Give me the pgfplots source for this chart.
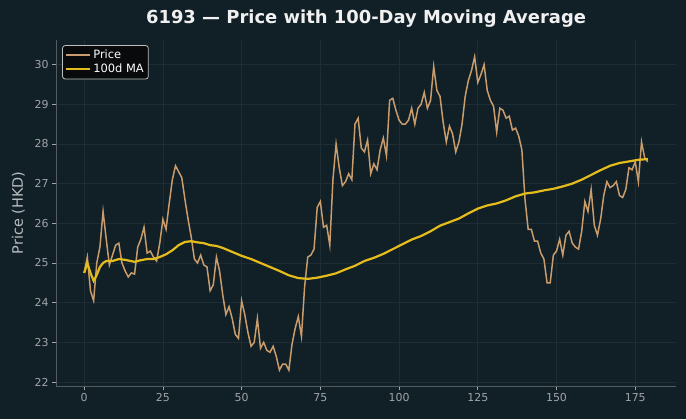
\documentclass[border=0pt]{standalone}
\usepackage{pgfplots}
\pgfplotsset{compat=1.18}
\usepackage{fontspec}
\setmainfont{DejaVu Sans}
\definecolor{bg}{RGB}{17,31,39}
\definecolor{pricec}{RGB}{201,156,108}
\definecolor{mac}{RGB}{228,188,28}
\definecolor{tickc}{RGB}{160,165,168}
\definecolor{gridc}{RGB}{30,44,52}
\definecolor{spinec}{RGB}{85,92,96}
\definecolor{legbg}{RGB}{8,10,12}
\definecolor{legdraw}{RGB}{190,190,190}
\definecolor{titlec}{RGB}{240,240,240}
\definecolor{labelc}{RGB}{185,190,192}
\begin{document}
\begin{tikzpicture}[x=1bp,y=1bp]
\fill[bg] (0,0) rectangle (686,419);
\path[use as bounding box] (0,0) rectangle (686,419);
\node[text=titlec, font=\fontsize{18}{21}\selectfont\bfseries] at (366,400) {6193 — Price with 100-Day Moving Average};
\begin{axis}[
  at={(56bp,33bp)}, anchor=south west, scale only axis,
  width=620bp, height=346bp,
  xmin=-8.95, xmax=187.95, ymin=21.9, ymax=30.62,
  axis x line*=bottom, axis y line*=left,
  axis line style={spinec, line width=0.8bp},
  tick align=outside,
  major tick length=4bp,
  tick style={tickc, line width=0.8bp},
  xtick={0,25,...,175}, ytick={22,...,30},
  grid=major, major grid style={gridc, line width=0.6bp},
  tick label style={text=tickc, font=\fontsize{11}{12}\selectfont},
  /pgf/number format/assume math mode=true,
  ylabel={Price (HKD)},
  ylabel shift=3bp,
  ylabel style={text=labelc, font=\fontsize{14.5}{16}\selectfont},
  legend style={at={(0.01,0.985)}, anchor=north west, fill=legbg, draw=legdraw,
    rounded corners=2.5bp, text=white, font=\fontsize{11.5}{14}\selectfont,
    inner sep=2.5bp, row sep=0bp, line width=0.8bp},
  legend cell align=left,
  legend image code/.code={\draw[#1] (0bp,0bp) -- (24bp,0bp);},
]
\addplot[pricec, line width=1.5bp] table[row sep=\\] {
x y\\
0 24.75\\ 1 25.15\\ 2 24.3\\ 3 24.05\\ 4 25.0\\ 5 25.4\\ 6 26.3\\ 7 25.6\\ 8 24.95\\ 9 25.2\\
10 25.45\\ 11 25.5\\ 12 25.0\\ 13 24.8\\ 14 24.65\\ 15 24.75\\ 16 24.72\\ 17 25.4\\ 18 25.6\\ 19 25.9\\
20 25.25\\ 21 25.3\\ 22 25.15\\ 23 25.05\\ 24 25.5\\ 25 26.1\\ 26 25.85\\ 27 26.5\\ 28 27.1\\ 29 27.45\\
30 27.3\\ 31 27.15\\ 32 26.6\\ 33 26.1\\ 34 25.65\\ 35 25.1\\ 36 25.0\\ 37 25.2\\ 38 24.95\\ 39 24.9\\
40 24.3\\ 41 24.45\\ 42 25.15\\ 43 24.8\\ 44 24.2\\ 45 23.7\\ 46 23.9\\ 47 23.6\\ 48 23.2\\ 49 23.1\\
50 24.05\\ 51 23.7\\ 52 23.25\\ 53 22.9\\ 54 23.0\\ 55 23.6\\ 56 22.85\\ 57 23.0\\ 58 22.8\\ 59 22.75\\
60 22.9\\ 61 22.65\\ 62 22.3\\ 63 22.45\\ 64 22.45\\ 65 22.3\\ 66 22.95\\ 67 23.35\\ 68 23.65\\ 69 23.15\\
70 24.4\\ 71 25.15\\ 72 25.2\\ 73 25.35\\ 74 26.4\\ 75 26.55\\ 76 25.9\\ 77 25.95\\ 78 25.45\\ 79 27.1\\
80 28.0\\ 81 27.4\\ 82 26.95\\ 83 27.05\\ 84 27.25\\ 85 27.1\\ 86 28.5\\ 87 28.65\\ 88 27.9\\ 89 27.8\\
90 28.1\\ 91 27.25\\ 92 27.5\\ 93 27.35\\ 94 27.85\\ 95 28.15\\ 96 27.7\\ 97 29.1\\ 98 29.15\\ 99 28.85\\
100 28.6\\ 101 28.5\\ 102 28.5\\ 103 28.6\\ 104 28.9\\ 105 28.5\\ 106 28.9\\ 107 29.0\\ 108 29.3\\ 109 28.9\\
110 29.1\\ 111 29.95\\ 112 29.35\\ 113 29.2\\ 114 28.55\\ 115 28.05\\ 116 28.45\\ 117 28.25\\ 118 27.8\\ 119 28.05\\
120 28.5\\ 121 29.2\\ 122 29.6\\ 123 29.85\\ 124 30.2\\ 125 29.55\\ 126 29.75\\ 127 30.0\\ 128 29.35\\ 129 29.1\\
130 28.95\\ 131 28.3\\ 132 28.9\\ 133 28.85\\ 134 28.65\\ 135 28.7\\ 136 28.35\\ 137 28.4\\ 138 28.2\\ 139 27.85\\
140 26.6\\ 141 25.85\\ 142 25.85\\ 143 25.55\\ 144 25.55\\ 145 25.25\\ 146 25.1\\ 147 24.5\\ 148 24.5\\ 149 25.2\\
150 25.3\\ 151 25.6\\ 152 25.2\\ 153 25.7\\ 154 25.8\\ 155 25.5\\ 156 25.4\\ 157 25.35\\ 158 25.8\\ 159 26.55\\
160 26.3\\ 161 26.85\\ 162 25.95\\ 163 25.7\\ 164 26.1\\ 165 26.7\\ 166 27.05\\ 167 26.9\\ 168 26.95\\ 169 27.05\\
170 26.7\\ 171 26.65\\ 172 26.85\\ 173 27.4\\ 174 27.35\\ 175 27.55\\ 176 27.05\\ 177 28.05\\ 178 27.65\\ 179 27.55\\
};
\addlegendentry{Price}
\addplot[mac, line width=2.2bp] coordinates {
(0,24.75) (1,25.0) (2,24.75) (3,24.55) (4,24.7) (5,24.9) (6,25.0) (7,25.05) (9,25.05) (11,25.1)
(13,25.08) (16,25.03) (18,25.07) (20,25.1) (22,25.1) (24,25.15) (26,25.22) (28,25.32) (30,25.45)
(32,25.53) (34,25.55) (36,25.52) (38,25.5) (40,25.45) (42,25.43) (44,25.38) (47,25.28) (50,25.18)
(53,25.1) (56,25.0) (59,24.9) (62,24.8) (65,24.69) (68,24.62) (71,24.6) (74,24.63) (77,24.68)
(80,24.74) (83,24.84) (86,24.93) (89,25.05) (92,25.13) (95,25.23) (98,25.35) (101,25.47)
(104,25.59) (107,25.68) (110,25.8) (113,25.94) (116,26.03) (119,26.12) (122,26.25) (125,26.37)
(128,26.45) (131,26.5) (134,26.58) (137,26.68) (140,26.75) (143,26.78) (146,26.83) (149,26.87)
(152,26.93) (155,27.0) (158,27.1) (161,27.22) (164,27.34) (167,27.45) (170,27.52) (173,27.56)
(176,27.6) (179,27.62)
};
\addlegendentry{100d MA}
\end{axis}
\end{tikzpicture}
\end{document}
